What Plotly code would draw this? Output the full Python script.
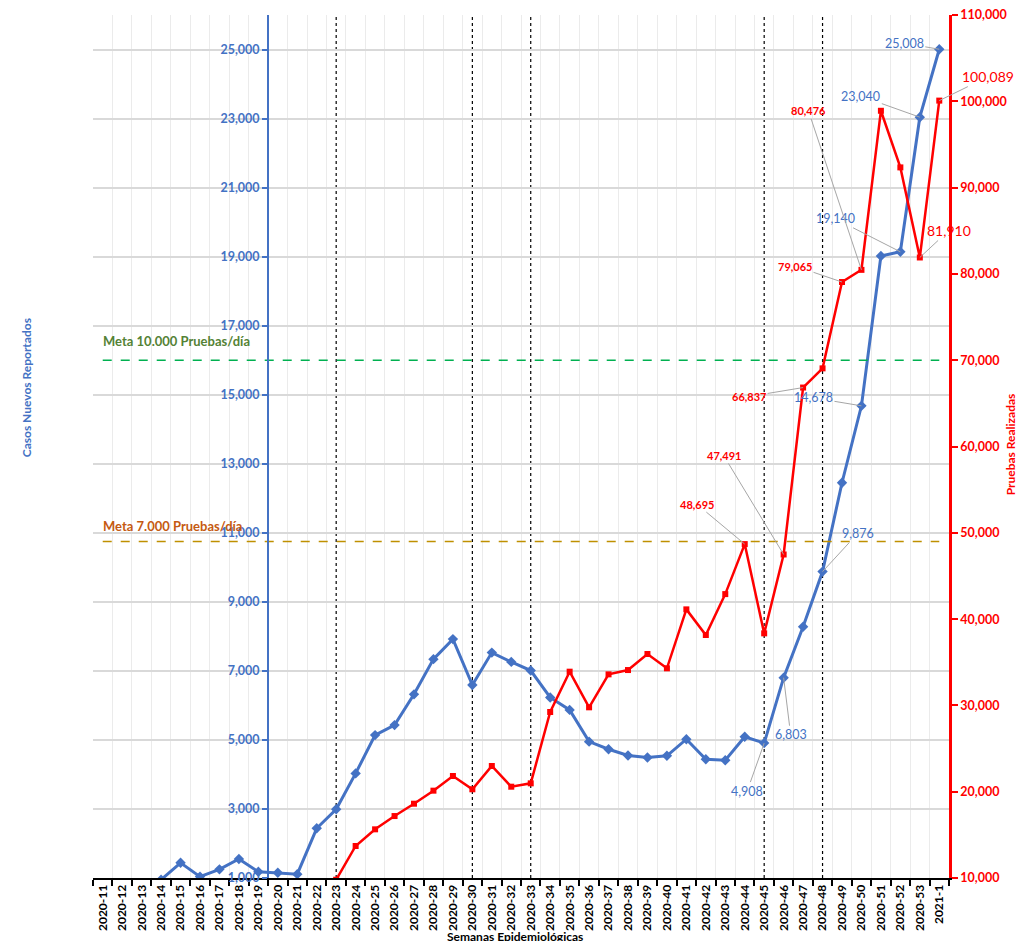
import plotly.graph_objects as go

weeks = ["2020-11", "2020-12", "2020-13", "2020-14", "2020-15", "2020-16", "2020-17", "2020-18",
         "2020-19", "2020-20", "2020-21", "2020-22", "2020-23", "2020-24", "2020-25", "2020-26",
         "2020-27", "2020-28", "2020-29", "2020-30", "2020-31", "2020-32", "2020-33", "2020-34",
         "2020-35", "2020-36", "2020-37", "2020-38", "2020-39", "2020-40", "2020-41", "2020-42",
         "2020-43", "2020-44", "2020-45", "2020-46", "2020-47", "2020-48", "2020-49", "2020-50",
         "2020-51", "2020-52", "2020-53", "2021-1"]

casos = [30, 200, 500, 950, 1440, 1040, 1250, 1550, 1180, 1150, 1110, 2440, 2990, 4030, 5140,
         5430, 6320, 7340, 7920, 6590, 7530, 7260, 7010, 6230, 5870, 4950, 4730, 4550, 4490,
         4540, 5020, 4440, 4410, 5090, 4908, 6803, 8280, 9876, 12450, 14678, 19020, 19140,
         23040, 25008]

pruebas = [None] * 12 + [9800, 13710, 15640, 17180, 18610, 20120, 21820, 20280, 22980, 20580,
                         20970, 29240, 33910, 29780, 33600, 34100, 35960, 34300, 41130, 38160,
                         42900, 48695, 38350, 47491, 66837, 69060, 79065, 80476, 98910, 92350,
                         81910, 100089]

meta_10000 = [70000] * len(weeks)
meta_7000 = [49000] * len(weeks)

casos_ticks = [1000, 3000, 5000, 7000, 9000, 11000, 13000, 15000, 17000, 19000, 21000, 23000, 25000]
pruebas_ticks = [10000, 20000, 30000, 40000, 50000, 60000, 70000, 80000, 90000, 100000, 110000]

vline_weeks = ["2020-23", "2020-30", "2020-33", "2020-45", "2020-48"]

casos_label_weeks = ["2021-1", "2020-53", "2020-52", "2020-50", "2020-48", "2020-46", "2020-45"]
pruebas_label_weeks = ["2021-1", "2020-53", "2020-50", "2020-49", "2020-47", "2020-46", "2020-44"]

# label placement (pixel offsets from the point)
casos_offsets = {"2021-1": (-35, -6), "2020-53": (-59, -21), "2020-52": (-65, -33),
                 "2020-50": (-48, -8), "2020-48": (35, -38), "2020-46": (7, 57),
                 "2020-45": (-17, 48)}
pruebas_offsets = {"2021-1": (49, -24), "2020-53": (29, -27), "2020-50": (-53, -159),
                   "2020-49": (-47, -16), "2020-47": (-54, 9), "2020-46": (-60, -99),
                   "2020-44": (-48, -40)}
pruebas_big = {"2021-1", "2020-53"}

BLUE = "#4472C4"
RED = "#FF0000"
FONT = "Lato"

fig = go.Figure()

fig.add_trace(go.Scatter(x=weeks, y=meta_10000, yaxis="y2", mode="lines",
                         line=dict(color="#00B050", width=1.5, dash="dash"),
                         hoverinfo="skip", showlegend=False))
fig.add_trace(go.Scatter(x=weeks, y=meta_7000, yaxis="y2", mode="lines",
                         line=dict(color="#BF9000", width=1.5, dash="dash"),
                         hoverinfo="skip", showlegend=False))
fig.add_trace(go.Scatter(x=weeks, y=casos, yaxis="y", mode="lines+markers",
                         name="Casos Nuevos Reportados",
                         line=dict(color=BLUE, width=3),
                         marker=dict(symbol="diamond", size=8, color=BLUE),
                         showlegend=False))
fig.add_trace(go.Scatter(x=weeks, y=pruebas, yaxis="y2", mode="lines+markers",
                         name="Pruebas Realizadas",
                         line=dict(color=RED, width=2.5),
                         marker=dict(symbol="square", size=6, color=RED),
                         showlegend=False))

for w in vline_weeks:
    fig.add_shape(type="line", xref="x", yref="paper", x0=w, x1=w, y0=0, y1=1,
                  line=dict(color="#000000", width=1.2, dash="dot"), layer="below")

annotations = []
for w in casos_label_weeks:
    v = casos[weeks.index(w)]
    ax, ay = casos_offsets[w]
    annotations.append(dict(x=w, y=v, xref="x", yref="y", text=f"{v:,}",
                            showarrow=True, arrowhead=0, arrowwidth=1, arrowcolor="#A6A6A6",
                            ax=ax, ay=ay, standoff=0,
                            font=dict(family=FONT, size=12.5, color=BLUE)))
for w in pruebas_label_weeks:
    v = pruebas[weeks.index(w)]
    ax, ay = pruebas_offsets[w]
    big = w in pruebas_big
    annotations.append(dict(x=w, y=v, xref="x", yref="y2",
                            text=f"{v:,}" if big else f"<b>{v:,}</b>",
                            showarrow=True, arrowhead=0, arrowwidth=1, arrowcolor="#A6A6A6",
                            ax=ax, ay=ay, standoff=0,
                            font=dict(family=FONT, size=14 if big else 11, color=RED)))

annotations.append(dict(x=0.0095, y=70000, xref="paper", yref="y2", xanchor="left",
                        yanchor="bottom", yshift=9, showarrow=False,
                        text="<b>Meta 10.000 Pruebas/día</b>",
                        font=dict(family=FONT, size=13, color="#548235")))
annotations.append(dict(x=0.0095, y=49000, xref="paper", yref="y2", xanchor="left",
                        yanchor="bottom", yshift=5, showarrow=False,
                        text="<b>Meta 7.000 Pruebas/día</b>",
                        font=dict(family=FONT, size=13, color="#C55A11")))
annotations.append(dict(x=-0.0888, y=0.568, xref="paper", yref="paper", textangle=-90,
                        showarrow=False, text="<b>Casos Nuevos Reportados</b>",
                        font=dict(family=FONT, size=12, color=BLUE)))
annotations.append(dict(x=1.083, y=0.502, xref="paper", yref="paper", textangle=-90,
                        showarrow=False, text="<b>Pruebas Realizadas</b>",
                        font=dict(family=FONT, size=12, color=RED)))
annotations.append(dict(x=0.493, y=-0.079, xref="paper", yref="paper",
                        showarrow=False, text="<b>Semanas Epidemiológicas</b>",
                        font=dict(family=FONT, size=12, color="#000000")))

# page body adds an 8px margin; size the figure so it fits the 1025x941 window
fig.update_layout(
    width=1017, height=933,
    margin=dict(l=85, r=76, t=7, b=63, autoexpand=False),
    paper_bgcolor="white", plot_bgcolor="white",
    showlegend=False,
    font=dict(family=FONT),
    annotations=annotations,
    xaxis=dict(type="category", categoryorder="array", categoryarray=weeks,
               tickson="boundaries", showgrid=True, gridcolor="#EBEBEB", gridwidth=1,
               ticks="outside", ticklen=6, tickwidth=2, tickcolor="#000000",
               showline=True, linecolor="#000000", linewidth=2,
               tickangle=-90, tickfont=dict(family=FONT, size=12, color="#000000", weight="bold"),
               range=[-0.5, len(weeks) - 0.5], zeroline=False, automargin=False),
    yaxis=dict(range=[1000, 26000], tickmode="array", tickvals=casos_ticks, tickformat=",",
               anchor="free", position=9 / 44, side="left",
               showgrid=True, gridcolor="#D9D9D9", gridwidth=1.5,
               showline=True, linecolor=BLUE, linewidth=2,
               ticks="outside", ticklen=5, tickwidth=2, tickcolor=BLUE,
               tickfont=dict(family=FONT, size=12.5, color=BLUE, weight="bold"),
               zeroline=False, automargin=False),
    yaxis2=dict(range=[10000, 110010], tickmode="array", tickvals=pruebas_ticks, tickformat=",",
                overlaying="y", side="right", anchor="x", ticklabeloverflow="allow",
                showgrid=False, showline=True, linecolor=RED, linewidth=2.5,
                ticks="outside", ticklen=6, tickwidth=2, tickcolor=RED,
                tickfont=dict(family=FONT, size=12.5, color=RED, weight="bold"),
                zeroline=False, automargin=False),
)

fig.write_html("out.html")
